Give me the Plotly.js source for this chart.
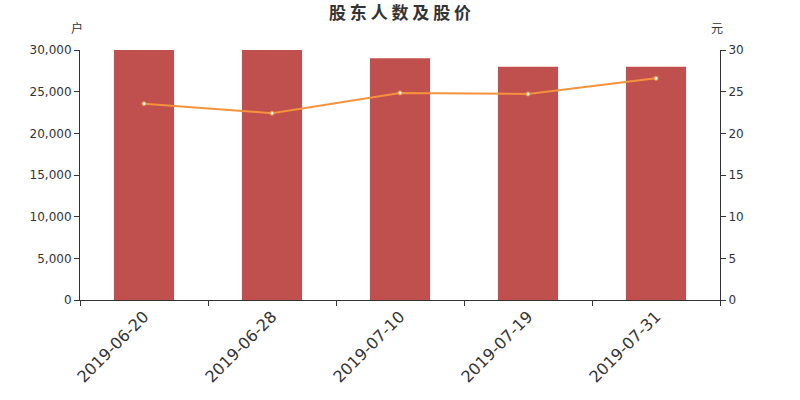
<!DOCTYPE html>
<html>
<head>
<meta charset="utf-8">
<script src="https://cdn.plot.ly/plotly-3.0.1.min.js"></script>
<style>
  html, body {margin: 0; padding: 0; background: #fff;}
  #graph {width: 800px; height: 400px;}
</style>
</head>
<body>
<div id="graph"></div>
<script>
//chart data
const dates = ['2019-06-20', '2019-06-28', '2019-07-10', '2019-07-19', '2019-07-31']
const holders = [30000, 30000, 29000, 28000, 28000]
const prices = [23.55, 22.42, 24.85, 24.72, 26.6]
const leftTicks = [0, 5000, 10000, 15000, 20000, 25000, 30000]
const rightTicks = [0, 5, 10, 15, 20, 25, 30]

const cjk = '"Noto Sans CJK SC", sans-serif'
const latin = '"DejaVu Sans", sans-serif'

//bars for holder count
const bars = {
  x: dates,
  y: holders,
  type: 'bar',
  name: '股东人数',
  marker: {color: '#c0504d'},
  width: 0.47,
  hoverinfo: 'y'
}

//line for share price
const line = {
  x: dates,
  y: prices,
  yaxis: 'y2',
  type: 'scatter',
  mode: 'lines+markers',
  name: '股价',
  line: {color: '#f5923e', width: 2},
  marker: {color: '#fff', size: 4, line: {color: '#f5923e', width: 1}}
}

const layout = {
  title: {
    text: '<b>股 东 人 数 及 股 价</b>',
    font: {family: cjk, size: 17, color: '#333'},
    x: 0.5,
    xanchor: 'center',
    y: 0.968,
    yanchor: 'middle'
  },
  showlegend: false,
  margin: {t: 50, l: 80, r: 80, b: 100, pad: 0},
  paper_bgcolor: '#fff',
  plot_bgcolor: '#fff',
  font: {family: latin, color: '#333'},
  xaxis: {
    type: 'category',
    ticks: 'outside',
    tickson: 'boundaries',
    ticklen: 5,
    tickcolor: '#333',
    showline: true,
    linecolor: '#333',
    linewidth: 1,
    tickangle: -45,
    tickfont: {family: latin, size: 16, color: '#333'},
    showgrid: false
  },
  yaxis: {
    range: [0, 30000],
    tickvals: leftTicks,
    tickformat: ',d',
    ticks: 'outside',
    ticklen: 5,
    tickcolor: '#333',
    showline: true,
    linecolor: '#333',
    showgrid: false,
    zeroline: false,
    tickfont: {family: latin, size: 12, color: '#333'}
  },
  yaxis2: {
    range: [0, 30],
    tickvals: rightTicks,
    overlaying: 'y',
    side: 'right',
    ticks: 'outside',
    ticklen: 5,
    tickcolor: '#333',
    showline: true,
    linecolor: '#333',
    showgrid: false,
    zeroline: false,
    tickfont: {family: latin, size: 12, color: '#333'}
  },
  annotations: [
    {text: '户', xref: 'paper', yref: 'paper', x: -0.005, y: 1.09, xanchor: 'center', yanchor: 'middle', showarrow: false, font: {family: cjk, size: 12, color: '#333'}},
    {text: '元', xref: 'paper', yref: 'paper', x: 0.995, y: 1.09, xanchor: 'center', yanchor: 'middle', showarrow: false, font: {family: cjk, size: 12, color: '#333'}}
  ]
}

const config = {displayModeBar: false, responsive: false}

Plotly.newPlot(document.getElementById('graph'), [bars, line], layout, config)
</script>
</body>
</html>
